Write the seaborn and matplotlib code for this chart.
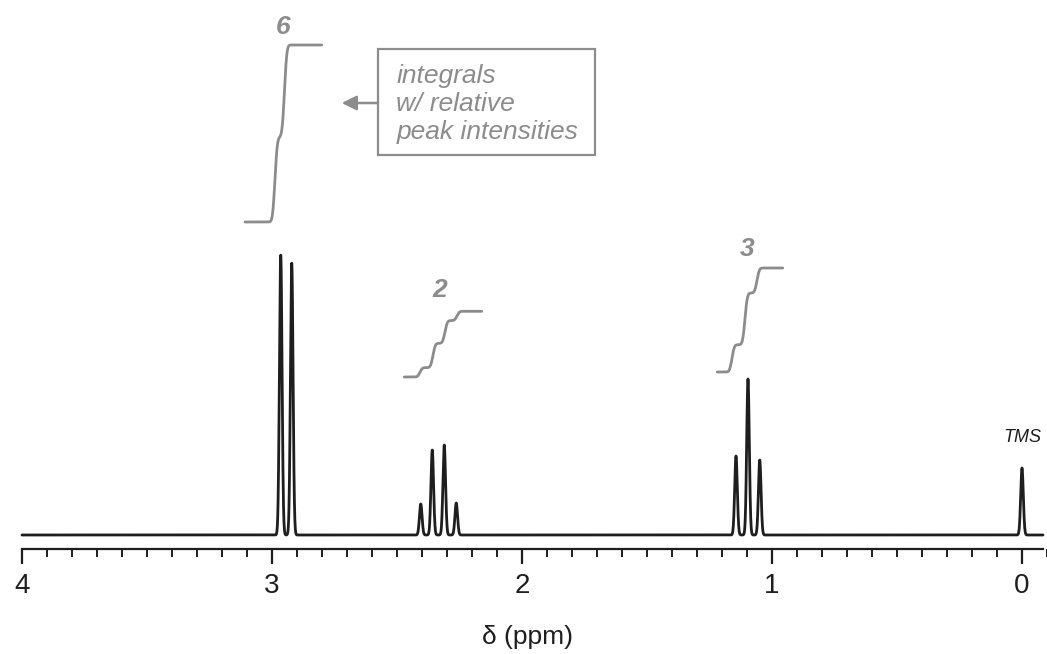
import numpy as np
import pandas as pd
import matplotlib
matplotlib.use("Agg")
import matplotlib.pyplot as plt
import seaborn as sns
from matplotlib.patches import Rectangle
from matplotlib.ticker import FixedLocator, MultipleLocator

# ---------------- data ----------------
peak_ppm = [2.965, 2.921, 2.405, 2.359, 2.311, 2.263, 1.144, 1.096, 1.049, 0.0]
peak_height = [280, 272, 31, 85, 90, 32, 79, 156, 75, 67]

int_labels = ["6", "2", "3"]
int_start = [3.108, 2.471, 1.219]
int_end = [2.801, 2.161, 0.957]
int_base = [313, 158, 163]
int_step_ppm = [[2.988, 2.950], [2.408, 2.356, 2.308, 2.260], [1.160, 1.108, 1.060]]
int_step_height = [[85, 92], [9.4, 24.3, 22.7, 9.3], [27.3, 51.7, 25.0]]
int_label_ppm = [2.956, 2.328, 1.101]
int_label_y = [508, 245, 286]

tick_values = [4, 3, 2, 1, 0]
tick_labels = ["4", "3", "2", "1", "0"]
x_label = "δ (ppm)"
note_text = "integrals\nw/ relative\npeak intensities"
ref_label = "TMS"

# ---------------- style ----------------
sns.set_style("white")
plt.rcParams["font.family"] = ["Liberation Sans", "DejaVu Sans"]
GRAY = "#8c8c8c"
DARK = "#1e1e1e"

fig = plt.figure(figsize=(10.47, 6.54), dpi=100)
ax = fig.add_axes([0, 0, 1, 1])

# spectrum: narrow line shapes at the read positions
x = np.linspace(4.0, -0.084, 9000)
sig = 0.0052
y = np.zeros_like(x)
for p, h in zip(peak_ppm, peak_height):
    y += h * np.exp(-0.5 * ((x - p) / sig) ** 2)
spec = pd.DataFrame({"ppm": x, "intensity": y})
sns.lineplot(data=spec, x="ppm", y="intensity", ax=ax, color=DARK,
             lw=2.0, sort=False, estimator=None)

# integral traces
isig = 0.0075
for lab, s, e, b, sp, sh, lx, ly in zip(int_labels, int_start, int_end, int_base,
                                         int_step_ppm, int_step_height,
                                         int_label_ppm, int_label_y):
    xi = np.linspace(s, e, 800)
    yi = np.full_like(xi, float(b))
    for p, h in zip(sp, sh):
        g = np.exp(-0.5 * ((xi - p) / isig) ** 2)
        c = np.cumsum(g)
        yi += h * c / c[-1]
    dfi = pd.DataFrame({"ppm": xi, "integral": yi})
    sns.lineplot(data=dfi, x="ppm", y="integral", ax=ax, color=GRAY, lw=2.0,
                 sort=False, estimator=None)
    ax.text(lx, ly, lab, ha="center", va="center", fontsize=19,
            fontweight="bold", fontstyle="italic", color=GRAY)

# note box with arrow
ax.add_patch(Rectangle((2.576, 380), 1.708 - 2.576, 106, fill=False,
                       edgecolor=GRAY, lw=1.6))
ax.text(2.503, 431, note_text, ha="left", va="center", fontsize=19,
        fontstyle="italic", color=GRAY, linespacing=1.2)
ax.annotate("", xy=(2.721, 432), xytext=(2.576, 432),
            arrowprops=dict(arrowstyle="-|>", color=GRAY, lw=1.8,
                            mutation_scale=22, shrinkA=0, shrinkB=0))

# TMS label
ax.text(0.0, 98, ref_label, ha="center", va="center", fontsize=13,
        fontstyle="italic", color=DARK)

# axes
ax.set_xlim(4.088, -0.1)
ax.set_ylim(-119, 535)
for sp_name in ["left", "right", "top"]:
    ax.spines[sp_name].set_visible(False)
ax.spines["bottom"].set_position(("data", -14))
ax.spines["bottom"].set_bounds(4.0, -0.084)
ax.spines["bottom"].set_linewidth(1.6)
ax.spines["bottom"].set_color(DARK)
ax.xaxis.set_major_locator(FixedLocator(tick_values))
ax.set_xticklabels(tick_labels)
ax.xaxis.set_minor_locator(MultipleLocator(0.1))
ax.tick_params(axis="x", which="major", direction="out", length=11, width=1.6,
               pad=6, labelsize=20, colors=DARK, bottom=True)
ax.tick_params(axis="x", which="minor", direction="out", length=5.5, width=1.4,
               colors=DARK, bottom=True)
ax.set_yticks([])
ax.set_xlabel("")
ax.set_ylabel("")
ax.text(1.978, -102, x_label, ha="center", va="center", fontsize=19,
        color=DARK)

fig.savefig("out.png", dpi=100)
